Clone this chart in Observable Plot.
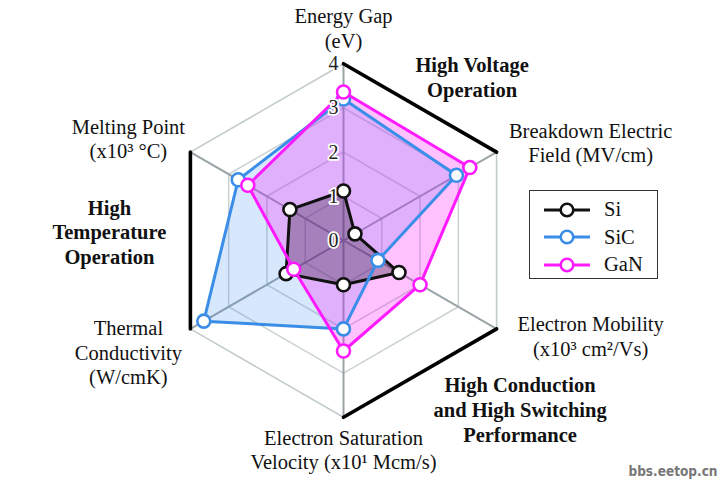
<!DOCTYPE html>
<html><head><meta charset="utf-8">
<script src="https://cdn.jsdelivr.net/npm/d3@7"></script>
<script src="https://cdn.jsdelivr.net/npm/@observablehq/plot@0.6"></script>
<style>
body{margin:0;background:#fff}
#wrap{position:relative;width:725px;height:480px;font-family:"Liberation Serif","Times New Roman",Tinos,"DejaVu Serif",serif}
#wrap svg text{font-family:"Liberation Serif","Times New Roman",Tinos,"DejaVu Serif",serif}
#wrap svg text.wm{font-family:"DejaVu Sans Condensed","DejaVu Sans",sans-serif}
#legend{position:absolute;left:529px;top:190px;width:127px;height:87px;border:1.6px solid #333;background:#fff}
#legend .row{position:absolute;left:0;height:27px;display:flex;align-items:center}
#legend .row span{font-size:20.5px;color:#111}
</style>
</head><body><div id="wrap"></div>
<script>
const axisLabels = ["Energy Gap\n(eV)", "Breakdown Electric\nField (MV/cm)", "Electron Mobility\n(x10³ cm²/Vs)", "Electron Saturation\nVelocity (x10¹ Mcm/s)", "Thermal\nConductivity\n(W/cmK)", "Melting Point\n(x10³ °C)"];
const materials = ["Si", "SiC", "GaN"];
const siValues  = [1.12, 0.3, 1.45, 1.0, 1.5, 1.4];
const sicValues = [3.2, 2.95, 0.9, 2.0, 3.65, 2.75];
const ganValues = [3.36, 3.3, 2.0, 2.5, 1.3, 2.5];
const tickValues = [0, 1, 2, 3, 4];
const groupLabels = ["High Voltage\nOperation", "High Conduction\nand High Switching\nPerformance", "High\nTemperature\nOperation"];
const groupEdges = [[0, 1], [2, 3], [4, 5]];

const colors = {Si: "#111111", SiC: "#3a8ee8", GaN: "#ff1aff"};
const fills = {Si: "#1a1025", SiC: "#3c8cf0", GaN: "#ff00ff"};
const fillOp = {Si: 0.3, SiC: 0.2, GaN: 0.24};
const seriesValues = {Si: siValues, SiC: sicValues, GaN: ganValues};

const N = axisLabels.length;
const ang = i => i * 2 * Math.PI / N;
const px = (r, i) => r * Math.sin(ang(i));
const py = (r, i) => r * Math.cos(ang(i));
const rMax = d3.max(tickValues);

const rings = tickValues.filter(t => t > 0).flatMap(t => d3.range(N).map(i => ({t, x: px(t, i), y: py(t, i)})));
const spokes = d3.range(N).map(i => ({x: px(rMax, i), y: py(rMax, i)}));
const edges = groupEdges.map(([a, b]) => ({x1: px(rMax, a), y1: py(rMax, a), x2: px(rMax, b), y2: py(rMax, b)}));
const series = m => seriesValues[m].map((v, i) => ({m, x: px(v, i), y: py(v, i)}));

const labelOffsets = [[0, -36], [94, -10], [94, 7], [0, 32], [-62, 23], [-62, -14]];
const groupOffsets = [[52, -31], [100, 36], [-81, -9]];
const labels = axisLabels.map((text, i) => ({text, x: px(rMax, i), y: py(rMax, i), dx: labelOffsets[i][0], dy: labelOffsets[i][1]}));
const groups = groupLabels.map((text, k) => {
  const e = edges[k];
  return {text, x: (e.x1 + e.x2) / 2, y: (e.y1 + e.y2) / 2, dx: groupOffsets[k][0], dy: groupOffsets[k][1]};
});

const k = 44.2, cx = 343, cy = 240, W = 725, H = 480;
const serif = "Liberation Serif";

const marks = [
  Plot.line(rings, {x: "x", y: "y", z: "t", curve: "linear-closed", stroke: d => d.t === rMax ? "#c3cccd" : "#cbd3d4", strokeWidth: 1.6}),
  Plot.link(spokes, {x1: 0, y1: 0, x2: "x", y2: "y", stroke: "#9aa4a6", strokeWidth: 2}),
  Plot.link(edges, {x1: "x1", y1: "y1", x2: "x2", y2: "y2", stroke: "#000", strokeWidth: 3.6, strokeLinecap: "round"}),
];
for (const m of ["SiC", "GaN", "Si"]) {
  marks.push(Plot.line(series(m), {x: "x", y: "y", curve: "linear-closed", fill: fills[m], fillOpacity: fillOp[m], stroke: "none"}));
}
for (const m of materials) {
  marks.push(Plot.line(series(m), {x: "x", y: "y", curve: "linear-closed", stroke: colors[m], strokeWidth: 3, strokeLinejoin: "round"}));
  marks.push(Plot.dot(series(m), {x: "x", y: "y", r: 6.5, fill: "white", stroke: colors[m], strokeWidth: 2.6}));
}
marks.push(
  Plot.text(tickValues, {x: 0, y: d => d, text: d => String(d), textAnchor: "end", dx: -5, fontSize: 20, fill: "#222", stroke: "white", strokeWidth: 3.5, fontFamily: serif}),
  ...labels.map(l => Plot.text([l], {x: "x", y: "y", text: "text", dx: l.dx, dy: l.dy, fontSize: 20.5, lineHeight: 1.2, fill: "#111", fontFamily: serif})),
  ...groups.map(g => Plot.text([g], {x: "x", y: "y", text: "text", dx: g.dx, dy: g.dy, fontSize: 20.5, fontWeight: "bold", lineHeight: 1.2, fill: "#111", fontFamily: serif})),
  Plot.text(["bbs.eetop.cn"], {frameAnchor: "bottom-right", text: d => d, dx: -8, dy: -5, fontSize: 13.5, fontWeight: "bold", fill: "#777", className: "wm"})
);

const chart = Plot.plot({
  width: W, height: H, margin: 0,
  x: {domain: [-cx / k, (W - cx) / k], range: [0, W], axis: null},
  y: {domain: [-(H - cy) / k, cy / k], range: [H, 0], axis: null},
  style: {fontFamily: serif, fontSize: "20px", background: "white", overflow: "visible"},
  marks
});
const wrap = document.getElementById("wrap");
wrap.appendChild(chart);
chart.querySelectorAll("text").forEach(t => { if ((t.textContent || "").includes("eetop")) t.setAttribute("class", "wm"); });

const lg = document.createElement("div");
lg.id = "legend";
materials.forEach((m, i) => {
  const row = document.createElement("div");
  row.className = "row";
  row.style.top = (5 + i * 27.5) + "px";
  row.innerHTML = `<svg width="62" height="20" style="margin-left:12px"><line x1="2" y1="10" x2="48" y2="10" stroke="${colors[m]}" stroke-width="3"/><circle cx="25" cy="10" r="6.3" fill="white" stroke="${colors[m]}" stroke-width="2.6"/></svg><span>${m}</span>`;
  lg.appendChild(row);
});
wrap.appendChild(lg);
</script>
</body></html>
